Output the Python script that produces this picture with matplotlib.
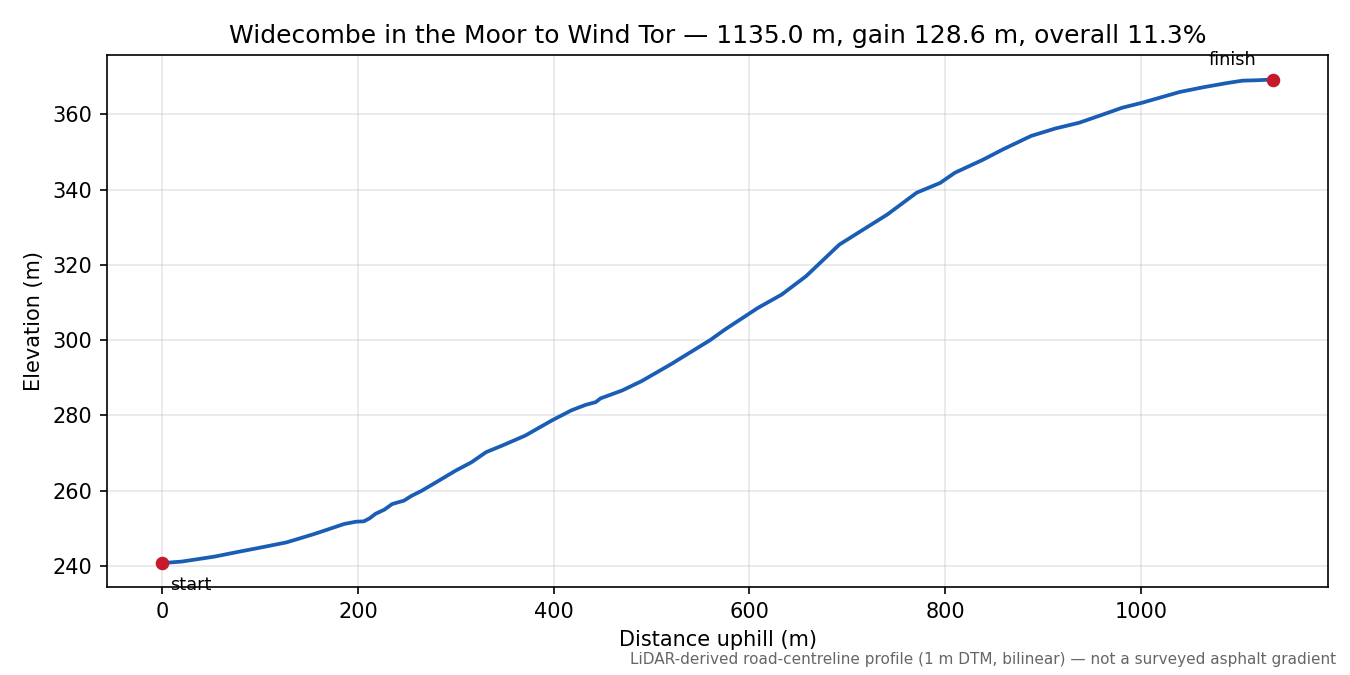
import matplotlib
matplotlib.use("Agg")
import matplotlib.pyplot as plt

# distance along road (m) and elevation (m)
dist = [0, 20, 53, 80, 100, 127, 155, 170, 186, 198, 206, 212, 218, 227, 235, 247,
        255, 265, 280, 300, 316, 331, 347, 371, 398, 418, 433, 443, 448, 470, 490,
        520, 560, 575, 609, 633, 658, 692, 722, 741, 771, 795, 810, 839, 859, 888,
        913, 937, 957, 981, 1001, 1040, 1065, 1089, 1104, 1118, 1135]
elev = [240.7, 241.1, 242.4, 243.8, 244.8, 246.2, 248.4, 249.7, 251.1, 251.7, 251.8,
        252.6, 253.8, 254.9, 256.4, 257.3, 258.6, 259.9, 262.2, 265.3, 267.5, 270.2,
        271.9, 274.6, 278.6, 281.3, 282.8, 283.5, 284.5, 286.6, 289.1, 293.6, 300.0,
        302.8, 308.6, 312.1, 317.0, 325.4, 330.3, 333.4, 339.2, 341.8, 344.5, 348.0,
        350.7, 354.3, 356.3, 357.8, 359.6, 361.8, 363.1, 366.0, 367.3, 368.4, 369.0,
        369.1, 369.3]

total = dist[-1] - dist[0]
gain = elev[-1] - elev[0]
grade = gain / total * 100

fig, ax = plt.subplots(figsize=(9, 4.5), dpi=150)
ax.plot(dist, elev, color="#1a5db5", lw=1.8)
ax.plot([dist[0], dist[-1]], [elev[0], elev[-1]], "o", color="#c41a2a", ms=5.5)
ax.annotate("start", (dist[0], elev[0]), xytext=(4, -6), textcoords="offset points",
            ha="left", va="top", fontsize=8.5)
ax.annotate("finish", (dist[-1], elev[-1]), xytext=(-8, 5), textcoords="offset points",
            ha="right", va="bottom", fontsize=8.5)

ax.set_title(f"Widecombe in the Moor to Wind Tor \u2014 {total:.1f} m, gain {gain:.1f} m, overall {grade:.1f}%",
             fontsize=12)
ax.set_xlabel("Distance uphill (m)")
ax.set_ylabel("Elevation (m)")
ax.grid(True, alpha=0.3)

fig.text(0.99, 0.012, "LiDAR-derived road-centreline profile (1 m DTM, bilinear) \u2014 not a surveyed asphalt gradient",
         ha="right", va="bottom", fontsize=7.3, color="#666666")

plt.subplots_adjust(left=0.079, right=0.984, top=0.918, bottom=0.13)
plt.savefig("out.png")
